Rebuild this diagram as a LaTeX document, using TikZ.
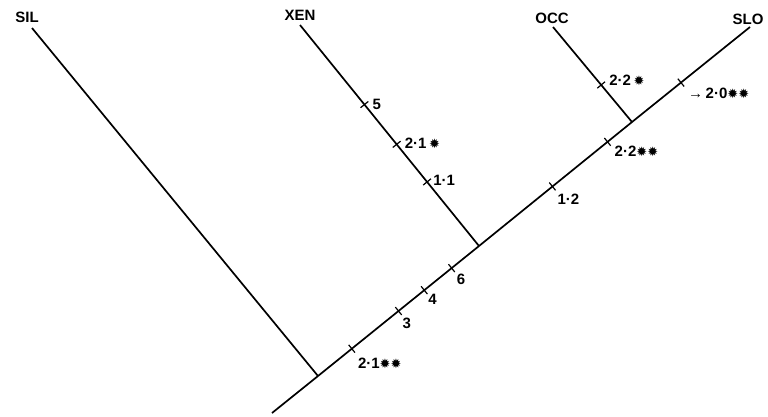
\documentclass[tikz,border=0pt]{standalone}
\usepackage{fontspec}
\setmainfont{Liberation Sans}
\newfontfamily\starfont{DejaVu Sans}
\usetikzlibrary{calc}
\newcommand{\st}{{\starfont\fontsize{13}{15}\selectfont ✹}}
\begin{document}
\begin{tikzpicture}[
      x=1pt, y=-1pt,
      branch/.style={line width=1.7pt},
      tickmark/.style={line width=1.2pt},
      taxon/.style={font=\fontsize{15}{18}\selectfont\bfseries, inner sep=0pt},
      steplabel/.style={font=\fontsize{15}{18}\selectfont\bfseries, inner sep=0pt, anchor=west}
    ]
    \useasboundingbox (0,0) rectangle (768,416);

    %-----------------------------
    % 1) Taxa and junctions
    %-----------------------------
    \node[taxon] (sil) at (27,17) {SIL};
    \node[taxon] (xen) at (300,15) {XEN};
    \node[taxon] (occ) at (552,18) {OCC};
    \node[taxon] (slo) at (748,19) {SLO};
    \coordinate (sil-tip) at (32,28);
    \coordinate (xen-tip) at (300,25);
    \coordinate (occ-tip) at (553,27);
    \coordinate (slo-tip) at (750,27);
    \coordinate (root) at (272,413);
    \coordinate (j1) at (318,376);
    \coordinate (j2) at (479,246);
    \coordinate (j3) at (632,122);

    %-----------------------------
    % 2) Branches
    %-----------------------------
    \draw[branch] (root) -- (j1) -- (j2) -- (j3) -- (slo-tip);
    \draw[branch] (sil-tip) -- (j1);
    \draw[branch] (xen-tip) -- (j2);
    \draw[branch] (occ-tip) -- (j3);

    %-----------------------------
    % 3) Steps on the branches
    %-----------------------------
    \path (j1) -- (j2)
      coordinate[pos=0.21] (s-21b) coordinate[pos=0.50] (s-3)
      coordinate[pos=0.66] (s-4) coordinate[pos=0.83] (s-6);
    \path (j2) -- (j3)
      coordinate[pos=0.48] (s-12) coordinate[pos=0.84] (s-22b);
    \path (j3) -- (slo-tip) coordinate[pos=0.415] (s-20);
    \path (occ-tip) -- (j3) coordinate[pos=0.61] (s-22a);
    \path (xen-tip) -- (j2)
      coordinate[pos=0.36] (s-5) coordinate[pos=0.54] (s-21a)
      coordinate[pos=0.71] (s-11);
    % cross ticks
    \foreach \s/\e in {s-21b/j2, s-3/j2, s-4/j2, s-6/j2, s-12/j3, s-22b/j3,
                       s-20/slo-tip, s-22a/j3, s-5/j2, s-21a/j2, s-11/j2} {
      \draw[tickmark] ($(\s)!5pt!90:(\e)$) -- ($(\s)!5pt!-90:(\e)$);
    }

    % step labels
    \node[steplabel] (l-5)   at ($(s-5)+(8,0)$)    {5};
    \node[steplabel] (l-21a) at ($(s-21a)+(8,-1)$) {2·1\,\st};
    \node[steplabel] (l-11)  at ($(s-11)+(6,-2)$)  {1·1};
    \node[steplabel] (l-21b) at ($(s-21b)+(6,15)$) {2·1\st\st};
    \node[steplabel] (l-3)   at ($(s-3)+(4,12)$)   {3};
    \node[steplabel] (l-4)   at ($(s-4)+(4,9)$)    {4};
    \node[steplabel] (l-6)   at ($(s-6)+(5,11)$)   {6};
    \node[steplabel] (l-12)  at ($(s-12)+(5,13)$)  {1·2};
    \node[steplabel] (l-22b) at ($(s-22b)+(7,10)$) {2·2\st\st};
    \node[steplabel] (l-20)  at ($(s-20)+(7,11)$)  {→\,2·0\st\st};
    \node[steplabel] (l-22a) at ($(s-22a)+(8,-5)$) {2·2\,\st};

  \end{tikzpicture}
\end{document}
